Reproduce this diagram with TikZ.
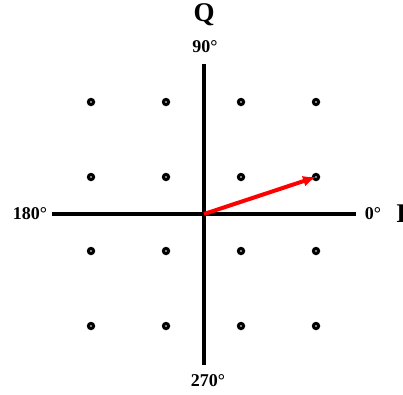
\documentclass[tikz,border=0pt]{standalone}
\usepackage{fontspec}
\usetikzlibrary{arrows.meta}
\setmainfont{Liberation Serif}
\begin{document}
\begin{tikzpicture}[x=1pt,y=-1pt,
  axis/.style={line width=3.6pt},
  dotmark/.style={circle,fill=black,inner sep=0pt,minimum size=8.5pt},
  deg/.style={font=\fontsize{18}{18}\selectfont\bfseries,inner sep=0pt},
  big/.style={font=\fontsize{27}{27}\selectfont\bfseries,inner sep=0pt}]
\useasboundingbox (0,0) rectangle (403,394);
\clip (0,0) rectangle (403,394);
\coordinate (O) at (204,214);
\coordinate (L) at (52,214);
\coordinate (R) at (356,214);
\coordinate (T) at (204,64);
\coordinate (B) at (204,365);
\draw[axis] (L) -- (R);
\draw[axis] (T) -- (B);
\foreach \x [count=\i] in {91,166,241,316}{
  \foreach \y [count=\j] in {102,177,251,326}{
    \node[dotmark] (d\i\j) at (\x,\y) {};
    \fill[white] (\x,\y) circle (0.9);
  }
}
\draw[red,line width=4pt,-{Latex[length=13pt,width=11pt]}] (O) -- (d42.center);
\node[big] (q) at (204,15) {Q};
\node[big,anchor=west] (i) at (396,214) {I};
\node[deg] (n90) at (205,47) {90°};
\node[deg] (n180) at (30,214) {180°};
\node[deg] (n0) at (373,214) {0°};
\node[deg] (n270) at (208,381) {270°};
\end{tikzpicture}
\end{document}
